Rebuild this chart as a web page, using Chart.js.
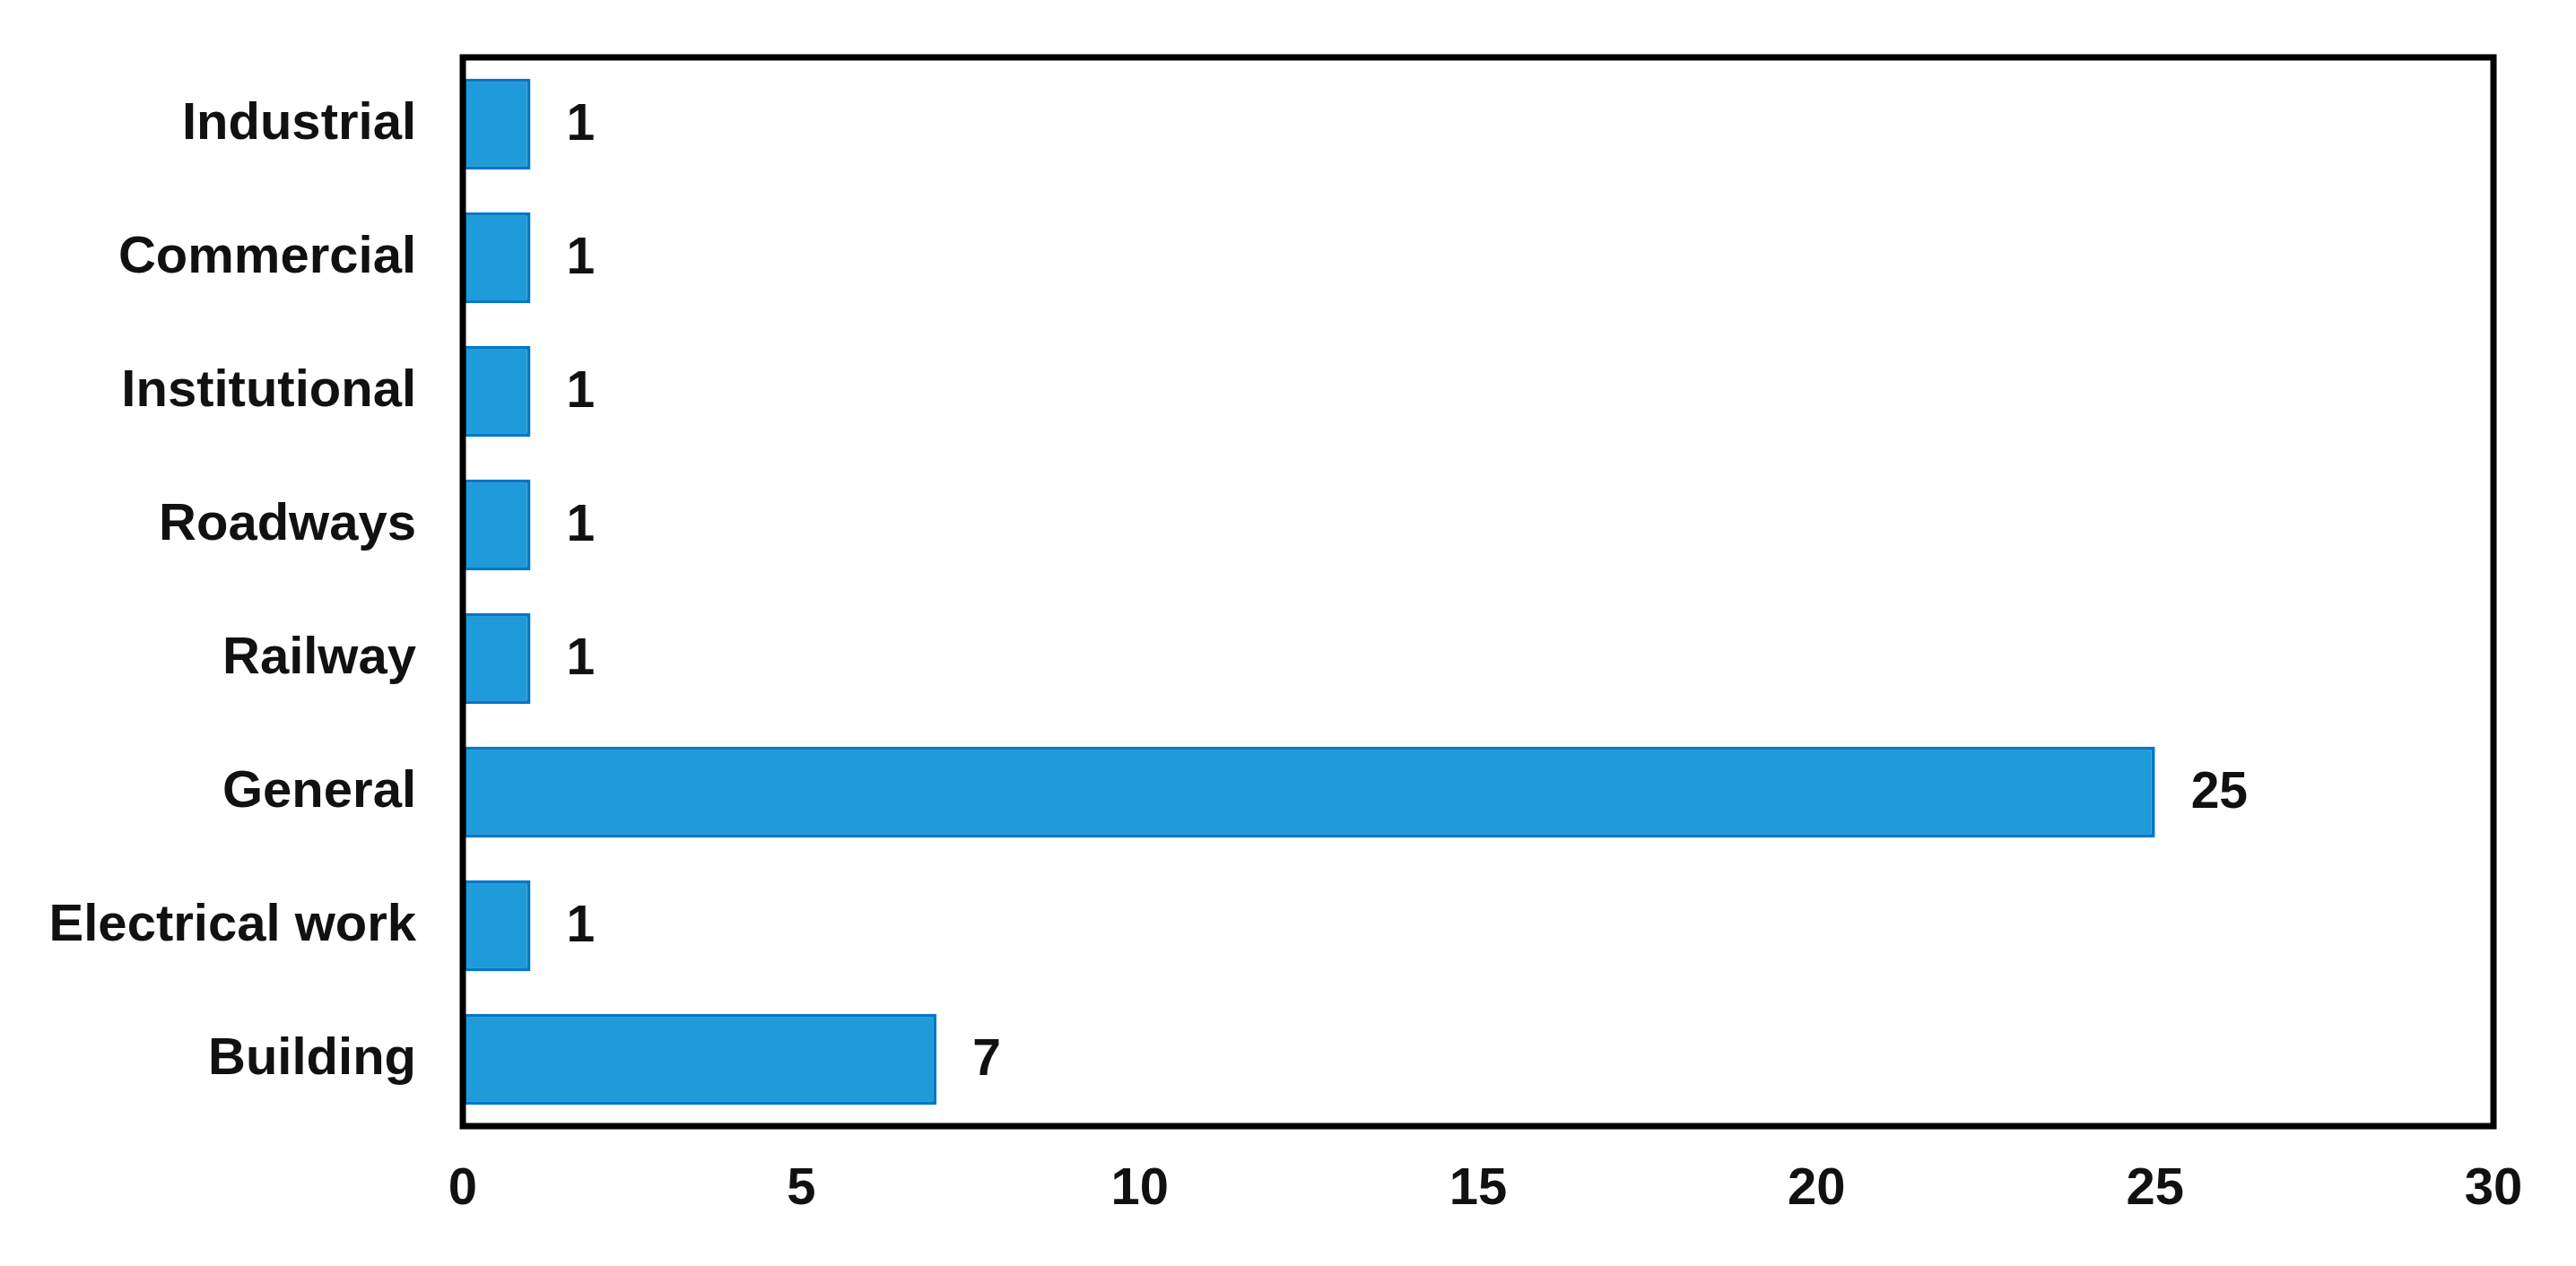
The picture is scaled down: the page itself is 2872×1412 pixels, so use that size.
<!DOCTYPE html>
<html>
<head>
<meta charset="utf-8">
<title>Projects by category</title>
<script src="https://cdn.jsdelivr.net/npm/chart.js@4"></script>
<style>
    html, body { margin: 0; padding: 0; background: #fff; }
    #wrap { width: 2872px; height: 1412px; }
</style>
</head>
<body>
<div id="wrap"><canvas id="catChart" width="2872" height="1412"></canvas></div>
<script>
// --- data ---
const categories = ['Industrial', 'Commercial', 'Institutional', 'Roadways', 'Railway', 'General', 'Electrical work', 'Building'];
const counts = [1, 1, 1, 1, 1, 25, 1, 7];
const xTicks = [0, 5, 10, 15, 20, 25, 30];

const FONT = '"Liberation Sans", Arial, Helvetica, sans-serif';

// value labels next to each bar
const valueLabels = {
    id: 'valueLabels',
    afterDatasetsDraw(chart) {
        const ctx = chart.ctx;
        const meta = chart.getDatasetMeta(0);
        ctx.save();
        ctx.font = 'bold 57px ' + FONT;
        ctx.fillStyle = '#111';
        ctx.textAlign = 'left';
        ctx.textBaseline = 'middle';
        meta.data.forEach(function (bar, i) {
            ctx.fillText(String(counts[i]), bar.x + 40, bar.y + 2);
        });
        ctx.restore();
    }
};

// black frame round the plot area
const plotFrame = {
    id: 'plotFrame',
    afterDraw(chart) {
        const a = chart.chartArea;
        const ctx = chart.ctx;
        ctx.save();
        ctx.strokeStyle = '#000';
        ctx.lineWidth = 7;
        ctx.strokeRect(a.left, a.top, a.right - a.left, a.bottom - a.top);
        ctx.restore();
    }
};

new Chart(document.getElementById('catChart').getContext('2d'), {
    type: 'bar',
    data: {
        labels: categories,
        datasets: [{
            data: counts,
            backgroundColor: '#1E9BD8',
            borderColor: '#0078C8',
            borderWidth: 4,
            borderSkipped: false,
            categoryPercentage: 1,
            barPercentage: 0.68
        }]
    },
    options: {
        indexAxis: 'y',
        responsive: false,
        animation: false,
        layout: { padding: { top: 64, right: 92, left: 0, bottom: 0 } },
        plugins: {
            legend: { display: false },
            tooltip: { enabled: false }
        },
        scales: {
            x: {
                min: 0,
                max: 30,
                afterBuildTicks: function (s) { s.ticks = xTicks.map(v => ({ value: v })); },
                afterFit: function (s) { s.height = 156; },
                grid: { display: false, drawTicks: false },
                border: { display: false },
                ticks: {
                    color: '#111',
                    padding: 36,
                    font: { family: FONT, size: 58, weight: 'bold' }
                }
            },
            y: {
                afterFit: function (s) {
                    s.width = 516;
                    s.paddingTop = 0;
                    s.paddingBottom = 0;
                },
                grid: { display: false, drawTicks: false },
                border: { display: false },
                ticks: {
                    color: '#111',
                    padding: 52,
                    font: { family: FONT, size: 58, weight: 'bold' }
                }
            }
        }
    },
    plugins: [valueLabels, plotFrame]
});
</script>
</body>
</html>
